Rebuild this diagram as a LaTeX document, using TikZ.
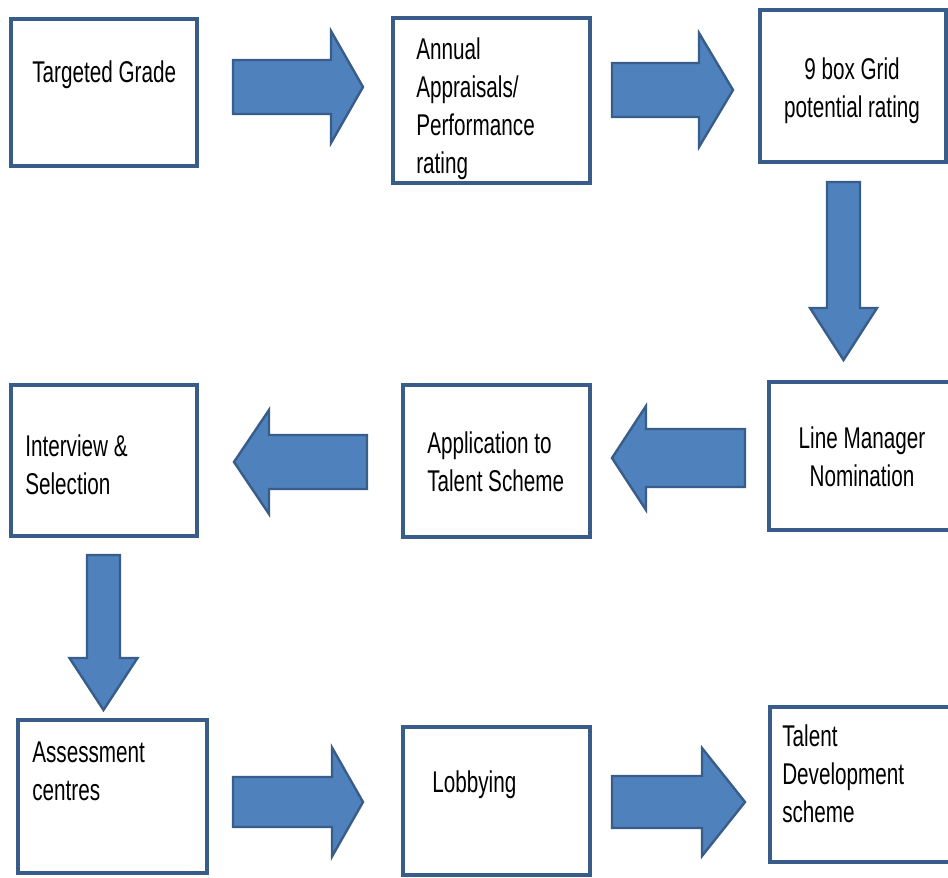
\documentclass[tikz,border=0pt]{standalone}
\usepackage{fontspec}
\setmainfont{Liberation Sans}[FakeStretch=0.69]
\usetikzlibrary{fit}
\definecolor{edgeblue}{HTML}{385D8A}
\definecolor{fillblue}{HTML}{4F81BD}

% block arrow along x: tail x, head-base x, tip x, centre y, shaft half-width, head half-width
\newcommand\flowarrowx[6]{%
  \draw[blockarrow] (#1,#4-#5) -- (#2,#4-#5) -- (#2,#4-#6) -- (#3,#4)
    -- (#2,#4+#6) -- (#2,#4+#5) -- (#1,#4+#5) -- cycle;}
% block arrow along y: tail y, head-base y, tip y, centre x, shaft half-width, head half-width
\newcommand\flowarrowy[6]{%
  \draw[blockarrow] (#4-#5,#1) -- (#4-#5,#2) -- (#4-#6,#2) -- (#4,#3)
    -- (#4+#6,#2) -- (#4+#5,#2) -- (#4+#5,#1) -- cycle;}

\begin{document}
\begin{tikzpicture}[x=0.75pt,y=-0.75pt,
  stage/.style={draw=edgeblue, line width=2.4pt, inner sep=0pt, fill=white},
  steptext/.style={inner sep=0pt, font=\fontsize{22.5}{28.5}\selectfont, text=black},
  blockarrow/.style={fill=fillblue, draw=edgeblue, line width=1.8pt, line join=miter}]
\useasboundingbox (0,0) rectangle (948,877);

% stage boxes
\path (11,19) coordinate (b1a) (197,166) coordinate (b1b);
\node[stage, fit=(b1a)(b1b)] (grade) {};
\path (393,18) coordinate (b2a) (590,183) coordinate (b2b);
\node[stage, fit=(b2a)(b2b)] (appraisal) {};
\path (760,10) coordinate (b3a) (946,162) coordinate (b3b);
\node[stage, fit=(b3a)(b3b)] (grid) {};
\path (769,382) coordinate (b4a) (952,530) coordinate (b4b);
\node[stage, fit=(b4a)(b4b)] (nomination) {};
\path (403,385) coordinate (b5a) (590,537) coordinate (b5b);
\node[stage, fit=(b5a)(b5b)] (application) {};
\path (11,385) coordinate (b6a) (197,536) coordinate (b6b);
\node[stage, fit=(b6a)(b6b)] (interview) {};
\path (18,720) coordinate (b7a) (207,873) coordinate (b7b);
\node[stage, fit=(b7a)(b7b)] (assessment) {};
\path (403,727) coordinate (b8a) (590,875) coordinate (b8b);
\node[stage, fit=(b8a)(b8b)] (lobbying) {};
\path (770,707) coordinate (b9a) (952,862) coordinate (b9b);
\node[stage, fit=(b9a)(b9b)] (talent) {};

% texts (anchored at the baseline of the last line)
\node[steptext, anchor=base west, align=left] (t1) at (32,83) {Targeted Grade};
\node[steptext, anchor=base west, align=left] (t2) at (416,174) {Annual\\Appraisals/\\Performance\\rating};
\node[steptext, anchor=base, align=center] (t3) at (852,118) {9 box Grid\\potential rating};
\node[steptext, anchor=base, align=center] (t4) at (862,486) {Line Manager\\Nomination};
\node[steptext, anchor=base west, align=left] (t5) at (427,491) {Application to\\Talent Scheme};
\node[steptext, anchor=base west, align=left] (t6) at (25,494) {Interview \&\\Selection};
\node[steptext, anchor=base west, align=left] (t7) at (32,800) {Assessment\\centres};
\node[steptext, anchor=base west, align=left] (t8) at (432,792) {Lobbying};
\node[steptext, anchor=base west, align=left] (t9) at (782,822) {Talent\\Development\\scheme};

% flow arrows
\flowarrowx{233}{331}{363}{87}{27}{56}
\flowarrowx{612}{699}{733}{90}{27}{57}
\flowarrowy{182}{308}{360}{843.5}{16.5}{33.5}
\flowarrowx{745}{646}{612}{458}{29}{52}
\flowarrowx{367}{269}{234}{462}{27}{52}
\flowarrowy{555}{658}{710}{103.5}{16.5}{34}
\flowarrowx{233}{332}{363}{802}{25}{54.5}
\flowarrowx{612}{702}{745}{802}{26}{54}
\end{tikzpicture}
\end{document}
